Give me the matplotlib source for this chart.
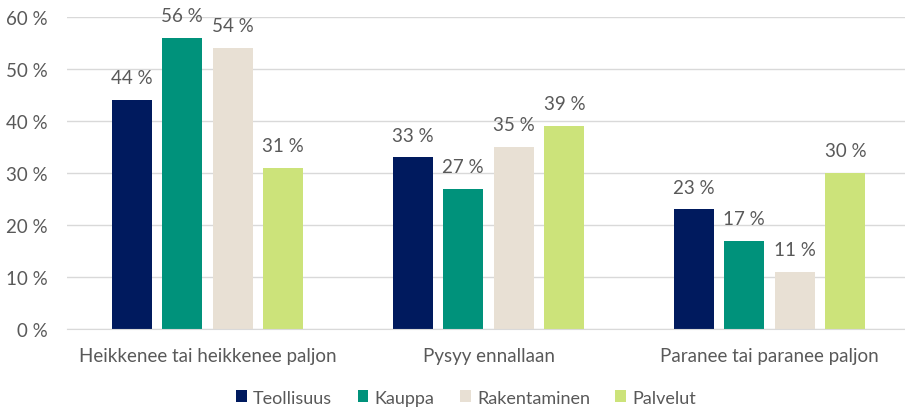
import numpy as np
import matplotlib.pyplot as plt

# categories and series
categories = ['Heikkenee tai heikkenee paljon', 'Pysyy ennallaan', 'Paranee tai paranee paljon']
series = ['Teollisuus', 'Kauppa', 'Rakentaminen', 'Palvelut']
teollisuus = [44, 33, 23]
kauppa = [56, 27, 17]
rakentaminen = [54, 35, 11]
palvelut = [31, 39, 30]
yticks = [0, 10, 20, 30, 40, 50, 60]

colors = ['#001A5E', '#00927B', '#E8E0D4', '#CCE37A']
text_col = '#595959'

plt.rcParams['font.family'] = ['Lato', 'DejaVu Sans']
fs = 13.5

fig = plt.figure(figsize=(9.05, 4.1), dpi=100)
ax = fig.add_axes([67/905, 80/410, 843/905, 312/410])

x = np.arange(len(categories))
step = 0.18
width = 0.142
for i, (name, vals) in enumerate(zip(series, [teollisuus, kauppa, rakentaminen, palvelut])):
    pos = x + (i - 1.5) * step
    ax.bar(pos, vals, width, color=colors[i], label=name, zorder=2)
    for p, v in zip(pos, vals):
        ax.annotate(f'{v} %', (p, v), xytext=(0, 16), textcoords='offset points',
                    ha='center', va='center', fontsize=fs, color=text_col)

ax.set_xlim(-0.5, 2.5)
ax.set_ylim(0, 60)
ax.set_yticks(yticks)
ax.set_yticklabels([f'{t} %' for t in yticks])
ax.set_xticks(x)
ax.set_xticklabels(categories)
ax.tick_params(axis='both', length=0, labelsize=fs, colors=text_col)
ax.tick_params(axis='y', pad=14)
ax.tick_params(axis='x', pad=13)
for s in ['top', 'right', 'left']:
    ax.spines[s].set_visible(False)
ax.spines['bottom'].set_color('#D9D9D9')
ax.yaxis.grid(color='#D9D9D9', linewidth=1, zorder=0)
ax.set_axisbelow(True)

fig.legend(loc='center', bbox_to_anchor=(0.515, 0.028), ncol=4, frameon=False,
           fontsize=13, labelcolor=text_col, handlelength=0.6, handleheight=0.6,
           handletextpad=0.35, columnspacing=1.4)

fig.savefig('out.png', dpi=100)
